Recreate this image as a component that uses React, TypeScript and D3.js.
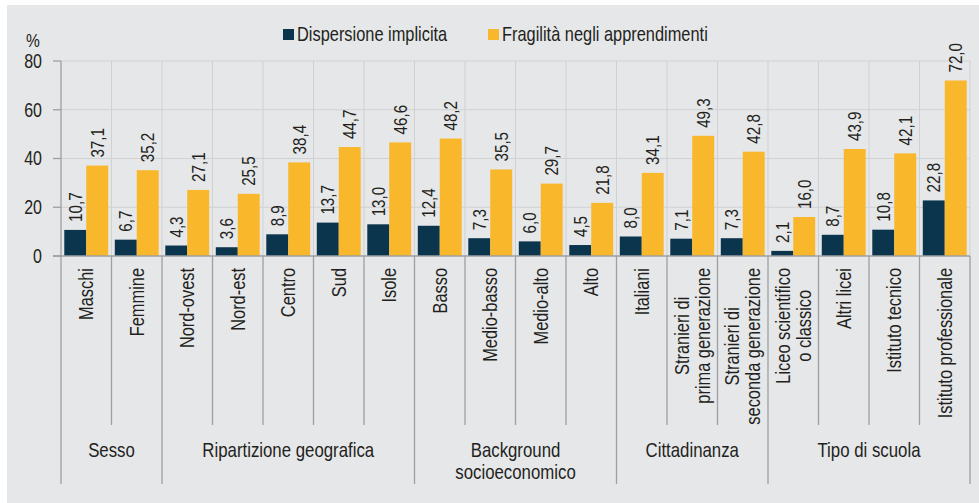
import React, { useRef, useEffect } from "react";
import * as d3 from "d3";

// categories, one per band (multi-line labels split with "\n")
const categories = [
  "Maschi", "Femmine",
  "Nord-ovest", "Nord-est", "Centro", "Sud", "Isole",
  "Basso", "Medio-basso", "Medio-alto", "Alto",
  "Italiani", "Stranieri di\nprima generazione", "Stranieri di\nseconda generazione",
  "Liceo scientifico\no classico", "Altri licei", "Istituto tecnico", "Istituto professionale",
];

const dispersione = [10.7, 6.7, 4.3, 3.6, 8.9, 13.7, 13.0, 12.4, 7.3, 6.0, 4.5, 8.0, 7.1, 7.3, 2.1, 8.7, 10.8, 22.8];
const fragilita = [37.1, 35.2, 27.1, 25.5, 38.4, 44.7, 46.6, 48.2, 35.5, 29.7, 21.8, 34.1, 49.3, 42.8, 16.0, 43.9, 42.1, 72.0];

const groupNames = ["Sesso", "Ripartizione geografica", "Background\nsocioeconomico", "Cittadinanza", "Tipo di scuola"];
const groupSizes = [2, 5, 4, 3, 4];

const seriesNames = ["Dispersione implicita", "Fragilità negli apprendimenti"];
const seriesColors = ["#0b344d", "#f9b72b"];
const yTicks = [0, 20, 40, 60, 80];

const W = 979;
const H = 503;
const FONT = "'Liberation Sans', Arial, sans-serif";
const NARROW = 0.82; // squeeze glyphs to mimic a narrow face

const App = () => {
  const svgRef = useRef<SVGSVGElement>(null);

  useEffect(() => {
    const svg = d3.select(svgRef.current);
    svg.selectAll("*").remove();

    const left = 61, right = 970, top = 61, base = 256;

    svg.append("rect").attr("x", 7).attr("y", 5).attr("width", W - 7).attr("height", H - 5).attr("fill", "#e6e7e9");

    const x = d3.scaleBand().domain(categories).range([left, right]).paddingInner(0).paddingOuter(0);
    const xs = d3.scaleBand().domain(seriesNames).range([0, x.bandwidth()]).paddingInner(0).paddingOuter(0.15);
    const y = d3.scaleLinear().domain([0, 80]).range([base, top]);

    const g = svg.append("g").style("font-family", FONT).attr("fill", "#231f20");

    const hText = (px: number, py: number, size: number, anchor: string) =>
      g.append("text").attr("transform", `translate(${px},${py}) scale(${NARROW},1)`)
        .attr("text-anchor", anchor).attr("font-size", size);

    // grid
    yTicks.filter(t => t > 0).forEach(t => {
      g.append("line").attr("x1", left).attr("x2", right).attr("y1", y(t)).attr("y2", y(t))
        .attr("stroke", "#d0d1d3").attr("stroke-width", 1);
    });
    categories.forEach((c, i) => {
      if (i === 0) return;
      g.append("line").attr("x1", x(c)!).attr("x2", x(c)!).attr("y1", top).attr("y2", base)
        .attr("stroke", "#d0d1d3").attr("stroke-width", 1);
    });
    g.append("line").attr("x1", right).attr("x2", right).attr("y1", top).attr("y2", base)
      .attr("stroke", "#d0d1d3").attr("stroke-width", 1);

    // bars
    const series = [dispersione, fragilita];
    series.forEach((vals, s) => {
      vals.forEach((v, i) => {
        const bx = x(categories[i])! + xs(seriesNames[s])!;
        g.append("rect").attr("x", bx).attr("y", y(v)).attr("width", xs.bandwidth())
          .attr("height", y(0) - y(v)).attr("fill", seriesColors[s]);
        g.append("text")
          .attr("transform", `translate(${bx + xs.bandwidth() / 2},${y(v) - 8}) rotate(-90) scale(${NARROW},1)`)
          .attr("dy", "0.35em").attr("font-size", 18.5)
          .text(v.toFixed(1).replace(".", ","));
      });
    });

    // y axis
    g.append("line").attr("x1", left).attr("x2", left).attr("y1", top).attr("y2", base)
      .attr("stroke", "#9d9fa2").attr("stroke-width", 1.3);
    yTicks.forEach(t => {
      g.append("line").attr("x1", left - 8).attr("x2", left).attr("y1", y(t)).attr("y2", y(t))
        .attr("stroke", "#9d9fa2").attr("stroke-width", 1.3);
      hText(left - 19, y(t), 19.5, "end").attr("dy", "0.35em").text(t);
    });
    g.append("line").attr("x1", left - 8).attr("x2", right).attr("y1", base).attr("y2", base)
      .attr("stroke", "#9d9fa2").attr("stroke-width", 1.3);
    hText(33, 47, 19, "middle").text("%");

    // category labels
    categories.forEach(c => {
      const lines = c.split("\n");
      const cx = x(c)! + x.bandwidth() / 2;
      const t = g.append("text").attr("transform", `translate(${cx},268) rotate(-90) scale(${NARROW},1)`)
        .attr("font-size", 20).attr("text-anchor", "middle");
      const spans = lines.map((l, i) =>
        t.append("tspan").attr("x", 0).attr("y", (i - (lines.length - 1) / 2) * 21).attr("dy", "0.35em").text(l));
      const maxLen = d3.max(spans, s => (s.node() as SVGTextContentElement).getComputedTextLength()) || 0;
      spans.forEach(s => s.attr("x", -maxLen / 2));
    });

    // separators & group labels
    let idx = 0;
    const bounds: number[] = [left];
    groupSizes.forEach((n, gi) => {
      const x0 = x(categories[idx])!;
      const x1 = x(categories[idx + n - 1])! + x.bandwidth();
      for (let k = 1; k < n; k++) {
        const sx = x(categories[idx + k])!;
        g.append("line").attr("x1", sx).attr("x2", sx).attr("y1", base).attr("y2", 425)
          .attr("stroke", "#9d9fa2").attr("stroke-width", 1.3);
      }
      bounds.push(x1);
      const lbl = hText((x0 + x1) / 2, 457, 20.5, "middle");
      groupNames[gi].split("\n").forEach((l, i) => {
        lbl.append("tspan").attr("x", 0).attr("y", i * 22).text(l);
      });
      idx += n;
    });
    bounds.forEach(b => {
      g.append("line").attr("x1", b).attr("x2", b).attr("y1", base).attr("y2", 484)
        .attr("stroke", "#9d9fa2").attr("stroke-width", 1.3);
    });

    // legend
    const legendX = [283, 488];
    seriesNames.forEach((s, i) => {
      g.append("rect").attr("x", legendX[i]).attr("y", 29).attr("width", 11).attr("height", 11).attr("fill", seriesColors[i]);
      hText(legendX[i] + 14, 41, 20, "start").text(s);
    });
  }, []);

  return (
    <div style={{ position: "absolute", left: 0, top: 0, width: W, height: H, background: "#fff" }}>
      <svg ref={svgRef} width={W} height={H}></svg>
    </div>
  );
};

export default App;
